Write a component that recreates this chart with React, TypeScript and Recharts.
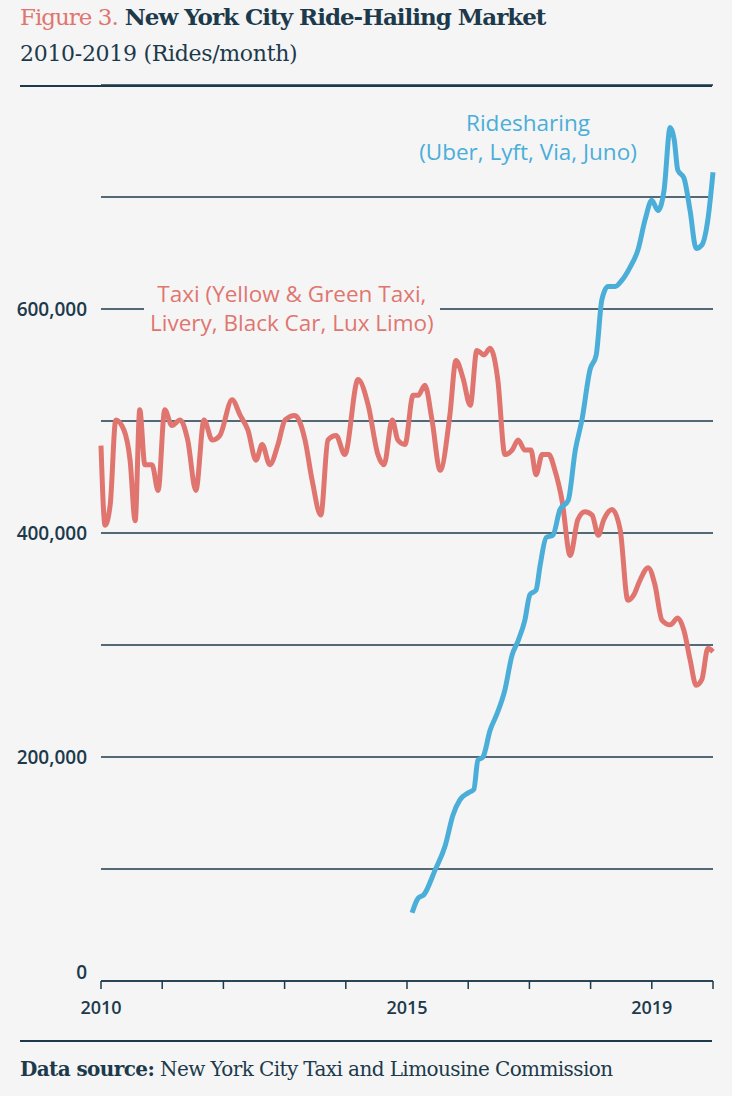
import React from 'react';
import { LineChart, Line, XAxis, YAxis, CartesianGrid } from 'recharts';

// month index from Jan 2010, values in rides/month
const taxiMonths = [0, 0.8, 1.8, 2.9, 4.5, 5.7, 6.7, 7.6, 8.6, 10, 11.2, 12.5, 13.9, 15.5, 17, 18.6, 20.2, 21.8, 23.3, 25.7, 27.3, 28.8, 30.4, 31.6, 33.1, 34.7, 36.1, 38, 40, 41.4, 43.1, 44.5, 46.1, 47.8, 50.4, 52.4, 54.3, 55.5, 57.1, 58.2, 59.6, 61.2, 62.2, 63.5, 64.9, 66.5, 68.4, 69.6, 71, 72.4, 73.7, 75.1, 76.3, 77.8, 79.2, 80.6, 81.8, 83.1, 84.3, 85.3, 86.5, 87.8, 89, 90.4, 92, 93.5, 94.9, 96.3, 97.5, 98.6, 100.2, 101.8, 103.3, 104.5, 105.7, 107.3, 108.6, 110, 111.6, 113.1, 114.3, 115.5, 116.7, 117.8, 119, 120];
const taxiValues = [478, 407, 425, 501, 492, 465, 411, 510, 461, 461, 438, 510, 496, 501, 483, 438, 501, 483, 487, 519, 505, 492, 465, 479, 461, 479, 501, 505, 483, 447, 416, 483, 487, 470, 537, 514, 470, 461, 501, 483, 479, 523, 523, 532, 501, 456, 505, 554, 538, 514, 563, 559, 565, 537, 470, 474, 483, 474, 474, 452, 470, 470, 456, 429, 380, 412, 419, 416, 398, 412, 421, 403, 340, 345, 358, 369, 354, 322, 318, 324, 313, 287, 264, 269, 297, 294];

const rideMonths = [61, 62.2, 63.3, 65.5, 67.5, 69, 70.4, 72, 73.1, 73.9, 74.9, 76.3, 77.6, 79.2, 80.6, 81.8, 83.1, 84.1, 85.3, 86.1, 87.3, 88.6, 90, 91.6, 93, 94.3, 95.9, 97.1, 98.2, 99.4, 100.8, 102.2, 103.7, 105.3, 106.7, 108, 109.2, 110.4, 111.6, 112.4, 113.1, 114.3, 115.5, 116.7, 117.8, 119, 120];
const rideValues = [61, 74, 77, 99, 121, 148, 162, 168, 171, 197, 200, 224, 238, 260, 291, 304, 322, 345, 349, 371, 396, 398, 421, 429, 474, 501, 546, 559, 608, 620, 620, 626, 637, 653, 680, 697, 688, 706, 762, 751, 724, 717, 688, 654, 657, 680, 722];

const yearTicks = [0, 12, 24, 36, 48, 60, 72, 84, 96, 108, 120];
const yearLabels: Record<number, string> = { 0: '2010', 60: '2015', 108: '2019' };
const valueTicks = [0, 100000, 200000, 300000, 400000, 500000, 600000, 700000];
const valueLabels: Record<number, string> = { 0: '0', 200000: '200,000', 400000: '400,000', 600000: '600,000' };

const taxi = taxiMonths.map((m, i) => ({ m, v: taxiValues[i] * 1000 }));
const rides = rideMonths.map((m, i) => ({ m, v: rideValues[i] * 1000 }));

const ink = '#1c3a4b';
const red = '#e07570';
const blue = '#4aaed9';
const bg = '#f5f5f5';
const sans = '"Open Sans", "Noto Sans", sans-serif';
const serif = '"DejaVu Serif", serif';

const YTick = (props: any) => {
  const { x, y, payload } = props;
  const label = valueLabels[payload.value];
  if (!label) return null;
  return (
    <text x={x - 6} y={y + (payload.value === 0 ? -2 : 7)} textAnchor="end" fontSize={19} fontWeight={600} fill={ink} fontFamily={sans}>
      {label}
    </text>
  );
};

const XTick = (props: any) => {
  const { x, y, payload } = props;
  const label = yearLabels[payload.value];
  if (!label) return null;
  return (
    <text x={x} y={y + 23} textAnchor="middle" fontSize={18} fontWeight={600} fill={ink} fontFamily={sans}>
      {label}
    </text>
  );
};

export default function App() {
  return (
    <div style={{ position: 'absolute', left: 0, top: 0, width: 732, height: 1096, background: bg, overflow: 'hidden' }}>
      <div style={{ position: 'absolute', left: 20, top: 3, fontFamily: serif, fontSize: 23, fontWeight: 700, color: ink, whiteSpace: 'nowrap', letterSpacing: -1 }}>
        <span style={{ color: red, fontWeight: 400 }}>Figure 3.</span> New York City Ride-Hailing Market
      </div>
      <div style={{ position: 'absolute', left: 20, top: 41, fontFamily: serif, fontSize: 22, color: ink, whiteSpace: 'nowrap', letterSpacing: -0.3 }}>
        2010-2019 (Rides/month)
      </div>
      <div style={{ position: 'absolute', left: 20, top: 85, width: 692, height: 1.5, background: ink }} />
      <LineChart width={732} height={1021} data={taxi} margin={{ top: 85, right: 19, left: 21, bottom: 0 }}>
        <CartesianGrid vertical={false} stroke={ink} strokeOpacity={1} strokeWidth={1.3} />
        <XAxis dataKey="m" type="number" domain={[0, 120]} ticks={yearTicks} tick={<XTick />} tickLine={{ stroke: ink, strokeWidth: 1.5 }} tickSize={8} axisLine={{ stroke: ink, strokeWidth: 1.5 }} height={40} interval={0} />
        <YAxis type="number" domain={[0, 800000]} ticks={valueTicks} tick={<YTick />} axisLine={false} tickLine={false} width={80} interval={0} />
        <Line data={taxi} dataKey="v" type="monotone" stroke={red} strokeWidth={5} dot={false} isAnimationActive={false} />
        <Line data={rides} dataKey="v" type="monotone" stroke={blue} strokeWidth={5} dot={false} isAnimationActive={false} />
      </LineChart>
      <div style={{ position: 'absolute', left: 144, top: 279, padding: '0 6px', background: bg, color: red, fontFamily: sans, fontSize: 22.5, lineHeight: '29px', textAlign: 'center', whiteSpace: 'nowrap' }}>
        Taxi (Yellow &amp; Green Taxi,<br />Livery, Black Car, Lux Limo)
      </div>
      <div style={{ position: 'absolute', left: 388, top: 108, width: 280, color: blue, fontFamily: sans, fontSize: 22.5, lineHeight: '29px', textAlign: 'center', whiteSpace: 'nowrap' }}>
        Ridesharing<br />(Uber, Lyft, Via, Juno)
      </div>
      <div style={{ position: 'absolute', left: 20, top: 1040, width: 692, height: 1.5, background: ink }} />
      <div style={{ position: 'absolute', left: 20, top: 1057, fontFamily: serif, fontSize: 20, color: ink, whiteSpace: 'nowrap', letterSpacing: -0.6 }}>
        <b>Data source:</b> New York City Taxi and Limousine Commission
      </div>
    </div>
  );
}
